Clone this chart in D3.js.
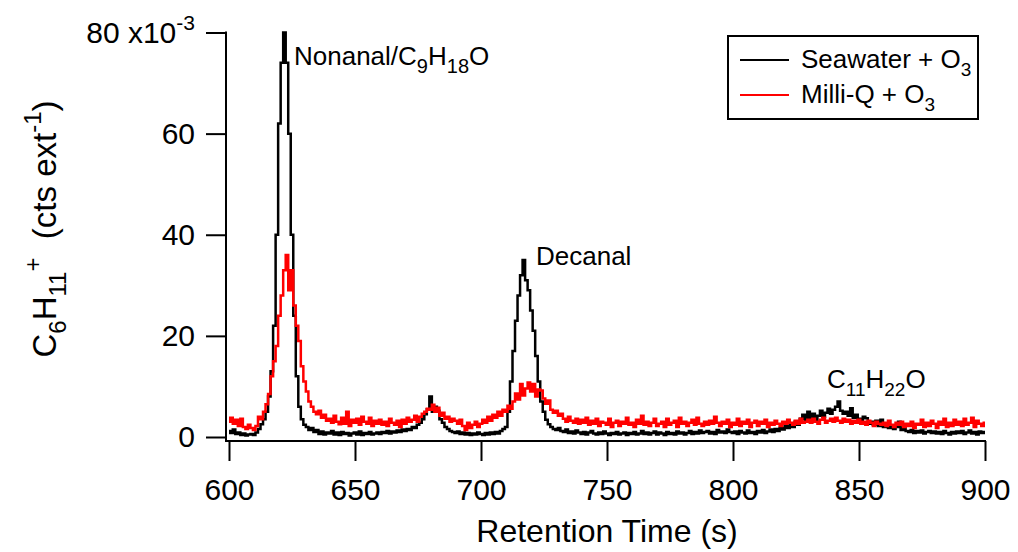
<!DOCTYPE html>
<html>
<head>
<meta charset="utf-8">
<script src="https://cdn.jsdelivr.net/npm/d3@7"></script>
<style>
  html, body { margin: 0; padding: 0; background: #fff; }
  svg { display: block; font-family: "Liberation Sans", Arial, sans-serif; }
</style>
</head>
<body>
<svg id="chart" width="1018" height="552"></svg>
<script>
// Retention time sampling (s)
const timeStart = 600;
const timeStep = 1;

// C6H11+ signal, units of 1e-3 cts/ext
const seawater = [
  1.2, 0.8, 1.5, 0.6, 0.9, 0.4, 0.7, 0.3, 0.5, 0.6,
  0.4, 0.9, 1.6, 2.5, 3.5, 5.0, 8.0, 13, 22, 40,
  62, 74, 80, 74, 60, 40, 24, 12, 6.0, 3.5,
  2.4, 2.0, 1.4, 1.8, 1.0, 1.4, 0.6, 1.1, 0.5, 0.9,
  0.7, 1.2, 0.5, 0.9, 0.4, 1.0, 0.6, 0.8, 0.3, 0.7,
  0.9, 0.5, 1.1, 0.4, 0.8, 0.6, 1.0, 0.5, 0.7, 0.9,
  0.6, 1.0, 0.8, 1.2, 0.7, 1.1, 0.9, 1.3, 1.0, 1.5,
  1.2, 1.6, 1.4, 2.0, 1.8, 2.4, 2.8, 3.5, 4.5, 5.5,
  8.0, 5.0, 6.0, 5.2, 3.5, 2.8, 2.0, 1.6, 1.2, 1.0,
  0.8, 1.1, 0.6, 0.9, 0.5, 0.8, 0.4, 0.7, 0.5, 0.9,
  0.6, 0.4, 0.8, 0.5, 0.9, 0.6, 1.0, 0.7, 1.2, 1.6,
  2.0, 5.0, 11, 17, 23, 28, 32, 35, 31, 29,
  25, 21, 16, 11, 7.0, 5.0, 3.4, 2.5, 2.0, 1.6,
  1.4, 1.8, 1.2, 1.0, 1.5, 0.8, 1.1, 0.7, 1.3, 0.9,
  0.6, 1.0, 0.5, 0.9, 1.2, 0.7, 0.5, 0.9, 0.6, 1.1,
  0.7, 0.4, 0.8, 0.6, 1.0, 0.5, 0.7, 0.9, 0.4, 0.8,
  0.6, 1.0, 0.5, 0.7, 1.2, 0.6, 0.9, 0.5, 0.8, 1.1,
  0.5, 0.9, 0.7, 0.4, 1.0, 0.6, 0.8, 0.5, 1.1, 0.7,
  0.9, 0.5, 0.8, 1.2, 0.6, 1.0, 0.7, 1.3, 0.8, 1.0,
  1.2, 0.7, 1.0, 0.6, 1.4, 0.9, 1.1, 0.8, 1.5, 1.0,
  0.8, 1.1, 0.6, 1.2, 0.9, 0.7, 1.3, 0.8, 1.0, 0.6,
  1.2, 0.9, 1.4, 0.8, 1.1, 1.5, 1.0, 1.6, 1.2, 1.8,
  1.5, 2.2, 1.8, 2.6, 2.0, 3.0, 2.4, 3.6, 4.4, 3.2,
  5.0, 3.8, 4.6, 3.4, 4.2, 5.2, 4.0, 4.8, 5.6, 4.6,
  5.4, 6.0, 7.0, 5.2, 4.6, 5.0, 4.2, 5.7, 3.8, 4.4,
  3.6, 3.2, 4.0, 3.7, 2.6, 3.0, 2.4, 3.2, 2.2, 3.4,
  2.0, 2.4, 1.8, 2.2, 1.6, 2.0, 3.0, 1.4, 1.8, 1.2,
  1.0, 1.4, 0.8, 1.2, 0.9, 1.3, 0.7, 1.0, 1.2, 0.8,
  1.1, 0.7, 1.0, 0.6, 1.2, 0.8, 0.5, 1.0, 0.7, 1.1,
  0.8, 1.2, 0.6, 0.9, 1.3, 0.7, 1.0, 0.5, 1.1, 0.8,
  1.0
];

const milliQ = [
  3.0, 3.8, 2.6, 3.4, 2.2, 3.6, 2.0, 1.6, 2.4, 1.8,
  1.4, 2.2, 4.0, 3.5, 5.0, 6.5, 8.5, 12, 15, 18,
  24, 28, 33, 36, 29, 33, 26, 22, 19, 14,
  11, 9.0, 7.0, 6.0, 5.0, 4.5, 5.2, 3.8, 4.4, 3.2,
  3.6, 2.8, 4.2, 3.0, 2.5, 3.8, 2.6, 5.0, 2.2, 3.4,
  2.8, 3.6, 2.4, 4.0, 3.0, 2.6, 3.8, 2.2, 3.2, 2.6,
  3.4, 2.4, 3.0, 2.2, 3.6, 2.8, 2.4, 3.2, 2.0, 3.4,
  2.6, 3.8, 3.0, 3.4, 4.2, 3.0, 4.0, 4.6, 5.0, 5.6,
  5.4, 6.4, 5.0, 5.8, 4.2, 4.8, 3.6, 4.0, 3.0, 3.6,
  3.2, 2.6, 3.4, 2.2, 1.4, 2.8, 1.8, 2.4, 3.0, 2.0,
  2.6, 3.4, 2.8, 4.0, 3.2, 4.4, 3.8, 5.0, 4.2, 5.4,
  5.0, 6.2, 5.6, 7.0, 8.6, 7.4, 10.5, 8.2, 9.6, 10.8,
  9.0, 10.5, 8.0, 9.4, 9.2, 7.6, 6.6, 7.2, 5.4, 4.8,
  5.2, 4.2, 4.6, 3.6, 3.0, 4.0, 3.2, 2.8, 3.6, 2.6,
  3.4, 2.8, 3.8, 2.4, 3.2, 2.6, 3.6, 2.2, 3.0, 2.8,
  2.4, 3.6, 2.0, 2.8, 3.2, 2.2, 3.0, 2.6, 3.8, 2.4,
  2.8, 2.0, 3.4, 2.6, 4.2, 2.4, 3.0, 2.2, 2.8, 3.6,
  2.2, 2.6, 3.0, 2.0, 3.6, 2.4, 2.8, 3.2, 2.0, 3.8,
  2.6, 3.0, 2.2, 2.8, 3.4, 2.4, 3.8, 2.6, 2.2, 3.0,
  2.4, 3.2, 2.6, 4.0, 2.8, 2.2, 3.0, 2.6, 3.4, 2.0,
  2.8, 2.4, 3.6, 2.2, 3.0, 2.6, 3.4, 2.0, 2.8, 3.2,
  2.2, 3.0, 2.6, 3.4, 2.0, 2.8, 2.4, 3.2, 2.6, 2.2,
  3.0, 2.6, 3.4, 2.8, 2.4, 3.2, 2.6, 3.6, 2.8, 3.0,
  3.4, 2.8, 3.6, 3.0, 2.6, 3.4, 3.8, 2.8, 3.2, 3.6,
  3.0, 3.8, 3.2, 2.8, 3.6, 3.0, 3.4, 2.6, 3.2, 2.8,
  3.4, 2.6, 3.0, 2.4, 3.2, 2.8, 2.2, 3.0, 2.6, 2.4,
  2.8, 2.2, 3.2, 2.4, 2.0, 2.8, 2.4, 3.0, 2.0, 2.6,
  2.2, 3.0, 1.8, 2.6, 2.4, 3.4, 2.0, 2.8, 2.2, 3.2,
  2.6, 1.8, 3.0, 2.4, 3.6, 2.0, 2.8, 2.2, 3.4, 2.4,
  3.0, 2.2, 3.6, 2.4, 2.8, 3.8, 2.0, 3.2, 2.6, 2.2,
  2.8
];

const xTicks = [600, 650, 700, 750, 800, 850, 900];
const yTicks = [0, 20, 40, 60, 80];

const svg = d3.select("#chart");

const x = d3.scaleLinear().domain([600, 900]).range([229, 985]);
const y = d3.scaleLinear().domain([0, 80]).range([437, 32.5]);

const axisX = 226;   // left axis line position
const axisY = 441;   // bottom axis line position

// traces, drawn as steps between samples
const line = d3.line()
  .x((d, i) => x(timeStart + i * timeStep))
  .y(d => y(d))
  .curve(d3.curveStep);

svg.append("path").datum(seawater)
  .attr("d", line)
  .attr("fill", "none")
  .attr("stroke", "#000")
  .attr("stroke-width", 2.5);

svg.append("path").datum(milliQ)
  .attr("d", line)
  .attr("fill", "none")
  .attr("stroke", "#ff0000")
  .attr("stroke-width", 2.5);

// axes
const gy = svg.append("g")
  .attr("transform", `translate(${axisX},0)`)
  .call(d3.axisLeft(y).tickValues(yTicks).tickSize(20).tickPadding(11).tickSizeOuter(0));
const gx = svg.append("g")
  .attr("transform", `translate(0,${axisY})`)
  .call(d3.axisBottom(x).tickValues(xTicks).tickSize(20).tickPadding(18).tickSizeOuter(0));

[gx, gy].forEach(g => {
  g.select(".domain").remove();
  g.selectAll(".tick line").attr("stroke", "#000").attr("stroke-width", 2);
  g.selectAll(".tick text")
    .attr("fill", "#000")
    .style("font-family", "'Liberation Sans', Arial, sans-serif")
    .style("font-size", "30px");
});

svg.append("line")
  .attr("x1", axisX).attr("x2", axisX)
  .attr("y1", y(80) - 1).attr("y2", axisY + 1)
  .attr("stroke", "#000").attr("stroke-width", 2);
svg.append("line")
  .attr("x1", axisX - 1).attr("x2", x(900) + 1)
  .attr("y1", axisY).attr("y2", axisY)
  .attr("stroke", "#000").attr("stroke-width", 2);

// top tick label carries the axis multiplier
gy.selectAll(".tick text").filter(d => d === 80).each(function () {
  const t = d3.select(this);
  t.text(null);
  t.append("tspan").text("80 x10");
  t.append("tspan").attr("dy", -13).style("font-size", "21px").text("-3");
});

// rich text helper: parts = [text, shift] where shift is 'sub', 'sup' or null
function richText(sel, parts, size, ratio = 0.72) {
  const small = Math.round(size * ratio);
  let cur = 0;
  parts.forEach(([txt, kind]) => {
    let target = 0;
    if (kind === "sub") target = size * 0.3;
    if (kind === "sup") target = -size * 0.45;
    sel.append("tspan")
      .attr("dy", target - cur)
      .style("font-size", (kind ? small : size) + "px")
      .text(txt);
    cur = target;
  });
}

// x axis title
svg.append("text")
  .attr("x", (x(600) + x(900)) / 2)
  .attr("y", 542)
  .attr("text-anchor", "middle")
  .style("font-size", "32px")
  .text("Retention Time (s)");

// y axis title
const yt = svg.append("text")
  .attr("transform", "translate(56,229) rotate(-90)")
  .attr("text-anchor", "middle")
  .style("font-size", "33px");
richText(yt, [["C", null], ["6", "sub"], ["H", null], ["11", "sub"], ["+", "sup"],
  ["\u00a0\u00a0(cts ext", null], ["-1", "sup"], [")", null]], 33);

// peak annotations
const ann1 = svg.append("text").attr("x", 294).attr("y", 65);
richText(ann1, [["Nonanal/C", null], ["9", "sub"], ["H", null], ["18", "sub"], ["O", null]], 26, 0.78);

const ann2 = svg.append("text").attr("x", 536).attr("y", 265);
richText(ann2, [["Decanal", null]], 26);

const ann3 = svg.append("text").attr("x", 827).attr("y", 388);
richText(ann3, [["C", null], ["11", "sub"], ["H", null], ["22", "sub"], ["O", null]], 26, 0.72);

// legend
const legend = svg.append("g");
legend.append("rect")
  .attr("x", 728).attr("y", 36).attr("width", 250).attr("height", 83)
  .attr("fill", "#fff").attr("stroke", "#000").attr("stroke-width", 2);
const legendItems = [
  { label: "Seawater + O", color: "#000", y: 60 },
  { label: "Milli-Q + O", color: "#ff0000", y: 95 }
];
legendItems.forEach(it => {
  legend.append("line")
    .attr("x1", 740).attr("x2", 789)
    .attr("y1", it.y).attr("y2", it.y)
    .attr("stroke", it.color).attr("stroke-width", 2);
  const t = legend.append("text").attr("x", 801).attr("y", it.y + 8);
  richText(t, [[it.label, null], ["3", "sub"]], 26);
});
</script>
</body>
</html>
